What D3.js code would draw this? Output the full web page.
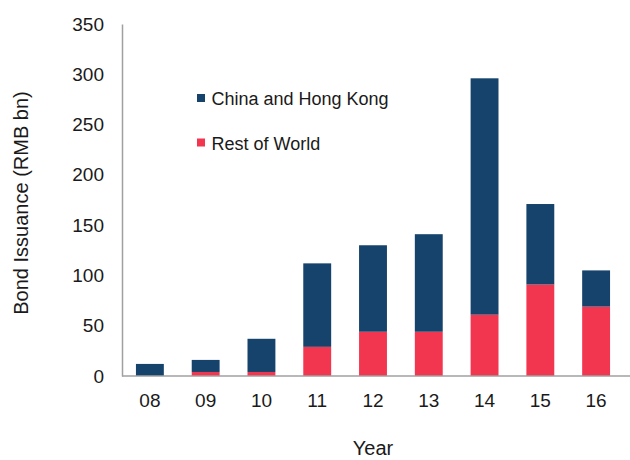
<!DOCTYPE html>
<html lang="en">
<head>
<meta charset="utf-8">
<title>Bond Issuance</title>
<script src="https://d3js.org/d3.v7.min.js"></script>
<style>
  body { margin: 0; background: #fff; }
  text { font-family: "Liberation Sans", Arial, sans-serif; fill: #1a1a1a; }
</style>
</head>
<body>
<script>
// data (RMB bn)
var years = ["08", "09", "10", "11", "12", "13", "14", "15", "16"];
var restOfWorld = [0, 4, 4, 29, 44, 44, 61, 91, 69];
var chinaHK = [12, 12, 33, 83, 86, 97, 235, 80, 36];
var yTicks = [0, 50, 100, 150, 200, 250, 300, 350];
var seriesNames = ["China and Hong Kong", "Rest of World"];
var colors = {"China and Hong Kong": "#16436b", "Rest of World": "#f2364f"};

var w = 630, h = 460;
// plot area edges
var plot = {left: 122, right: 624, top: 24, bottom: 376};

var svg = d3.select("body").append("svg")
  .attr("width", w).attr("height", h);

var x = d3.scaleBand().domain(years).range([plot.left, plot.right]).paddingInner(0.5).paddingOuter(0.25);
var y = d3.scaleLinear().domain([0, 350]).range([plot.bottom, plot.top]);

var rows = years.map(function(yr, i) {
  return {year: yr, "Rest of World": restOfWorld[i], "China and Hong Kong": chinaHK[i]};
});
var stack = d3.stack().keys(["Rest of World", "China and Hong Kong"])(rows);

svg.append("g").selectAll("g").data(stack).join("g")
  .attr("fill", function(d) { return colors[d.key]; })
  .selectAll("rect").data(function(d) { return d; }).join("rect")
    .attr("x", function(d) { return x(d.data.year); })
    .attr("width", x.bandwidth())
    .attr("y", function(d) { return y(d[1]); })
    .attr("height", function(d) { return y(d[0]) - y(d[1]); });

// axes
var yAxis = svg.append("g").attr("transform", "translate(" + plot.left + ",0)")
  .call(d3.axisLeft(y).tickValues(yTicks).tickSize(0).tickPadding(18));
yAxis.select(".domain").attr("stroke", "#a0a0a0").attr("stroke-width", 1.5);
yAxis.selectAll("text").attr("font-size", 19);

var xAxis = svg.append("g").attr("transform", "translate(0," + plot.bottom + ")")
  .call(d3.axisBottom(x).tickSize(0).tickPadding(18));
xAxis.select(".domain").remove();
xAxis.append("line").attr("x1", plot.left).attr("x2", w).attr("y1", 0).attr("y2", 0)
  .attr("stroke", "#a0a0a0").attr("stroke-width", 1.5);
xAxis.selectAll("text").attr("font-size", 19);

svg.append("text").attr("x", 373).attr("y", 455).attr("text-anchor", "middle")
  .attr("font-size", 20).text("Year");
svg.append("text").attr("transform", "translate(28,203) rotate(-90)")
  .attr("text-anchor", "middle").attr("font-size", 20).text("Bond Issuance (RMB bn)");

// legend
var legend = svg.append("g").selectAll("g").data(seriesNames).join("g")
  .attr("transform", function(d, i) { return "translate(197," + (94 + i * 44.5) + ")"; });
legend.append("rect").attr("width", 8).attr("height", 8)
  .attr("fill", function(d) { return colors[d]; });
legend.append("text").attr("x", 14.5).attr("y", 11).attr("font-size", 18)
  .text(function(d) { return d; });
</script>
</body>
</html>
